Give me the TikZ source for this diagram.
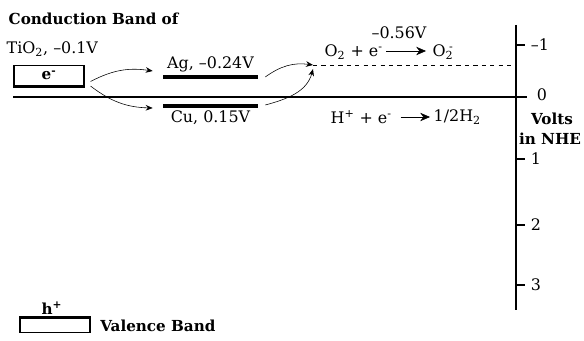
\documentclass[tikz,border=0pt]{standalone}
\usepackage{fontspec}
\setmainfont{DejaVu Serif}
\usetikzlibrary{positioning,arrows.meta,calc}

\newcommand\txtfont{\fontsize{11.3}{13}\selectfont}
\newcommand\boldfont{\fontsize{10.8}{13}\selectfont\bfseries}

\begin{document}
\begin{tikzpicture}[x=0.025cm,y=0.025cm,
  band/.style={draw,thick,fill=white,minimum width=1.75cm,minimum height=0.5cm,inner sep=0pt,font=\boldfont},
  lvl/.style={fill=black,minimum width=2.375cm,minimum height=0.09cm,inner sep=0pt},
  edge/.style={line width=2.2pt},
  lbl/.style={font=\txtfont,inner sep=1pt},
  blbl/.style={font=\boldfont,inner sep=1pt},
  carr/.style={-{Stealth[length=5pt,width=4pt]},thin},
  rarr/.style={-{Stealth[length=7pt,width=6pt]},thin},
  axis/.style={line width=1.4pt},
  node distance=1mm]
  \useasboundingbox (0,0) rectangle (584,341);
  \node[blbl,anchor=west] (cbtitle) at (7,322) {Conduction Band of};
  \node[lbl,anchor=west] (tio) at (5,292) {TiO\textsubscript{2}, –0.1V};
  \node[band] (cb) at (49,265.5) {e\textsuperscript{-}};
  \draw[edge] (cb.south west) -- (cb.south east);
  \node[lvl] (ag) at (210.5,264) {};
  \node[lvl] (cu) at (210.5,235) {};
  \node[lbl,above=0.3mm of ag] (aglbl) {Ag, –0.24V};
  \node[lbl,below=0.3mm of cu] (culbl) {Cu, 0.15V};
  \coordinate (z0) at (13,244);
  \coordinate (z1) at (527,244);
  \coordinate (atop) at (516,316);
  \coordinate (abot) at (516,31);
  \coordinate (o2lvl) at (313,276);
  \draw[axis] (z0) -- (z1);
  \draw[axis] (atop) -- (abot);
  \draw[dashed,thin] (o2lvl) -- (o2lvl -| atop);
  \foreach \y/\t in {296/–1,182/1,116/2,56/3}
    \draw[thick] (516,\y) -- (525,\y) node[lbl,right=1mm] (tick\y) {\t};
  \node[lbl] (zero) at (542,246) {0};
  \node[blbl] (volts) at (552,222) {Volts};
  \node[blbl] (nhe) at (550,202) {in NHE};
  \node[lbl] (pot) at (399,308) {–0.56V};
  \node[lbl,anchor=west] (o2) at (323,289) {O\textsubscript{2} + e\textsuperscript{-}};
  \node[lbl,anchor=west] (o2m) at (431,289) {O\textsubscript{2}\llap{\textsuperscript{-}}};
  \draw[rarr] ($(o2.east)+(2,1)$) -- ($(o2m.west)+(-5,1)$);
  \node[lbl,anchor=west] (hp) at (329,224) {H\textsuperscript{+} + e\textsuperscript{-}};
  \node[lbl,anchor=west] (hh) at (432,224) {1/2H\textsubscript{2}};
  \draw[rarr] ($(hp.east)+(7,0)$) -- ($(hh.west)+(-2,0)$);
  \draw[carr] ($(cb.east)+(6,-6)$) to[bend left=18] ($(ag.west)+(-10,6)$);
  \draw[carr] ($(cb.south east)+(6,0)$) to[bend right=18] ($(cu.west)+(-10,-2)$);
  \draw[carr] ($(ag.east)+(7,0)$) to[bend left=22] (o2lvl);
  \draw[carr] ($(cu.east)+(7,1)$) to[out=15,in=-105] ($(o2lvl)+(0,-4)$);
  \node[blbl] (hole) at (52,33) {h\textsuperscript{+}};
  \node[band,minimum height=0.36cm] (vb) at (55,15.5) {};
  \draw[edge] (vb.north west) -- (vb.north east);
  \node[blbl,right=2mm of vb] (vblbl) {Valence Band};
\end{tikzpicture}
\end{document}
